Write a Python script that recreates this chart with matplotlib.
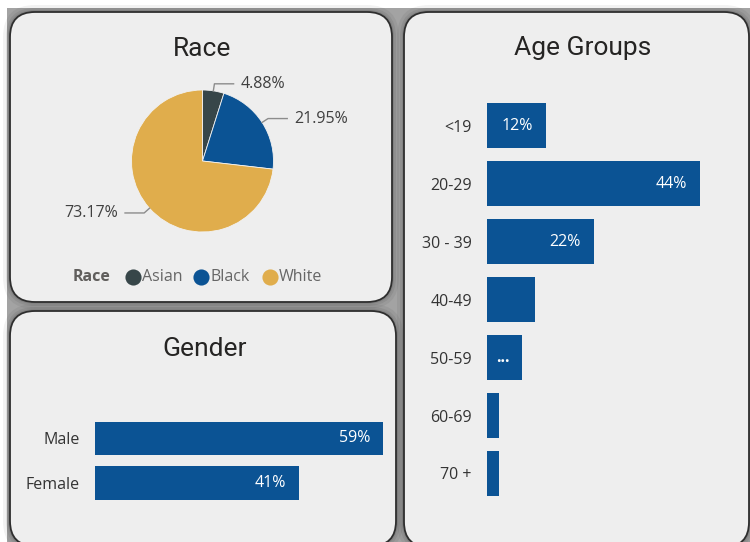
import matplotlib
matplotlib.use('Agg')
import matplotlib.pyplot as plt
import numpy as np
from matplotlib.patches import FancyBboxPatch, Rectangle

plt.rcParams['font.family'] = ['Open Sans', 'DejaVu Sans']

# 数据
race_names = ['Asian', 'Black', 'White']
race_pct = [4.88, 21.95, 73.17]
race_colors = ['#374649', '#0b5394', '#e0ad4c']

gender_names = ['Male', 'Female']
gender_pct = [58.54, 41.46]

age_groups = ['<19', '20-29', '30 - 39', '40-49', '50-59', '60-69', '70 +']
age_pct = [12.2, 43.9, 22.0, 9.8, 7.3, 2.4, 2.4]
age_label_mode = ['value', 'value', 'value', 'none', 'cut', 'none', 'none']

BAR = '#0b5394'
CARD = '#eeeeee'
TITLE_FONT = ['Roboto', 'DejaVu Sans']
TXT = '#333333'

W, H = 750, 542
fig = plt.figure(figsize=(W / 100, H / 100), dpi=100)
fig.patch.set_facecolor('white')

# 背景层, 像素坐标
bg = fig.add_axes([0, 0, 1, 1])
bg.set_xlim(0, W)
bg.set_ylim(H, 0)
bg.axis('off')
bg.add_patch(Rectangle((7, 8), W, H, color='#a3a3a3', lw=0))


def card(x0, y0, x1, y1):
    # 阴影 + 圆角卡片
    for k, a in [(7, 0.05), (4, 0.07), (2, 0.09)]:
        bg.add_patch(FancyBboxPatch((x0 - k, y0 - k), x1 - x0 + 2 * k, y1 - y0 + 2 * k,
                                    boxstyle=f"round,pad=0,rounding_size={25 + k}",
                                    fc='black', alpha=a, lw=0))
    bg.add_patch(FancyBboxPatch((x0, y0), x1 - x0, y1 - y0,
                                boxstyle="round,pad=0,rounding_size=25",
                                fc=CARD, ec='#2e2e2e', lw=1.3))


card(10, 12, 392, 302)
card(10, 311, 396, 546)
card(404, 12, 749, 547)

title_kw = dict(ha='center', va='center', fontsize=19,
                family=TITLE_FONT, color='#252423')
bg.text(202, 48.5, 'Race', **title_kw)
bg.text(205, 348.5, 'Gender', **title_kw)
bg.text(583, 48.5, 'Age Groups', **title_kw)


def px_axes(x0, y0, x1, y1):
    ax = fig.add_axes([x0 / W, 1 - y1 / H, (x1 - x0) / W, (y1 - y0) / H])
    ax.set_facecolor('none')
    return ax


# 饼图
cx, cy, R = 202.5, 161, 71
half = 115
ax = px_axes(cx - half, cy - half, cx + half, cy + half)
ax.pie(race_pct, colors=race_colors, startangle=90, counterclock=False, radius=1,
       wedgeprops=dict(linewidth=0.6, edgecolor='#f2f2f2'))
ax.set_xlim(-half / R, half / R)
ax.set_ylim(-half / R, half / R)
ax.axis('off')

start = np.concatenate([[0], np.cumsum(race_pct)[:-1]])
for pct, s in zip(race_pct, start):
    ang = np.deg2rad(90 - (s + pct / 2) * 3.6)
    side = 1 if np.cos(ang) > 0 else -1
    p0 = np.array([np.cos(ang), np.sin(ang)]) * 1.0
    p1 = np.array([np.cos(ang), np.sin(ang)]) * 1.1
    p2 = p1 + np.array([side * 0.27, 0])
    ax.plot([p0[0], p1[0], p2[0]], [p0[1], p1[1], p2[1]], color='#8c8c8c', lw=1, clip_on=False)
    ax.text(p2[0] + side * 0.1, p2[1], f'{pct:.2f}%', ha='left' if side > 0 else 'right',
            va='center', fontsize=11.5, color='#404040', clip_on=False)

# 图例
ly = 277
bg.text(73, ly, 'Race', ha='left', va='center', fontsize=11.5, fontweight='bold', color='#605e5c')
for name, col, mx in zip(race_names, race_colors, [133, 201, 270]):
    bg.scatter([mx], [ly], s=135, color=col, lw=0)
    bg.text(mx + 9, ly, name, ha='left', va='center', fontsize=11.5, color='#666666')


def hbars(ax, names, vals, height, xmax, modes):
    n = len(vals)
    ax.barh(range(n), vals, height=height, color=BAR)
    ax.set_xlim(0, xmax)
    ax.set_ylim(n - 0.5, -0.5)
    ax.set_yticks(range(n), names)
    ax.set_xticks([])
    ax.tick_params(length=0, pad=10.8, labelsize=11.5, labelcolor=TXT)
    for sp in ax.spines.values():
        sp.set_visible(False)
    for i, (v, m) in enumerate(zip(vals, modes)):
        if m == 'none':
            continue
        txt = f'{v:.0f}%' if m == 'value' else '...'
        ax.annotate(txt, (v, i), xytext=(-9.4, 0), textcoords='offset points',
                    ha='right', va='center', color='white', fontsize=11.5,
                    fontweight='bold' if m == 'cut' else 'normal')


# 年龄段
ax2 = px_axes(487, 96.5, 734, 502.5)
hbars(ax2, age_groups, age_pct, 0.78, 247 / 4.85, age_label_mode)

# 性别
ax3 = px_axes(95, 416.25, 395, 505.25)
hbars(ax3, gender_names, gender_pct, 0.75, 300 / 4.92, ['value', 'value'])

fig.savefig('out.png', dpi=100, facecolor=fig.get_facecolor())
